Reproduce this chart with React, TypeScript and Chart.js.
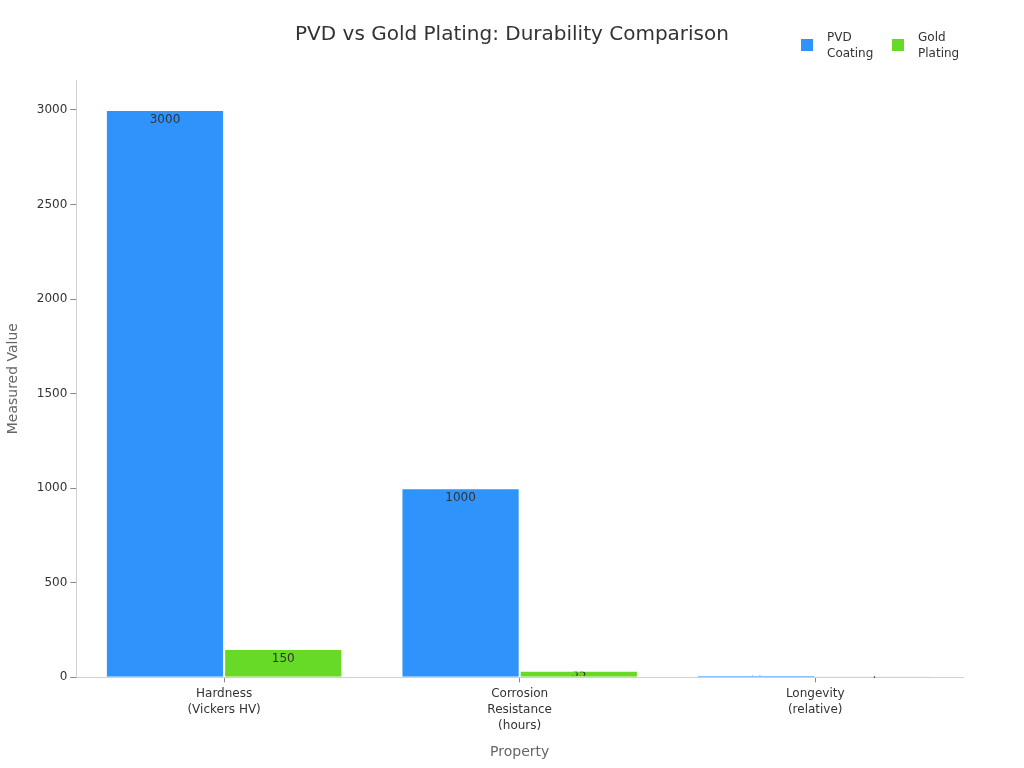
import React, { useEffect, useRef } from "react";
import { Chart, registerables } from "chart.js";

Chart.register(...registerables);

const categories: string[][] = [
  ["Hardness", "(Vickers HV)"],
  ["Corrosion", "Resistance", "(hours)"],
  ["Longevity", "(relative)"],
];
const pvdValues = [3000, 1000, 12];
const goldValues = [150, 35, 1];
const seriesNames = [["PVD", "Coating"], ["Gold", "Plating"]];
const yTicks = [0, 500, 1000, 1500, 2000, 2500, 3000];
const chartTitle = "PVD vs Gold Plating: Durability Comparison";

const BLUE = "#2E93FA";
const GREEN = "#66DA26";
const FONT = "'DejaVu Sans', sans-serif";

const labelPlugin = {
  id: "barLabels",
  afterDatasetsDraw(chart: any) {
    const ctx = chart.ctx;
    chart.data.datasets.forEach((ds: any, di: number) => {
      const meta = chart.getDatasetMeta(di);
      meta.data.forEach((bar: any, i: number) => {
        const v = ds.data[i];
        const left = bar.x - bar.width / 2;
        const top = Math.min(bar.y, bar.base);
        const h = Math.abs(bar.base - bar.y);
        ctx.save();
        ctx.beginPath();
        ctx.rect(left + 1, top + 1, bar.width - 2, h - 2);
        ctx.clip();
        ctx.fillStyle = "#333";
        ctx.font = `12px ${FONT}`;
        ctx.textAlign = "center";
        ctx.textBaseline = "middle";
        const y = Math.min(top + 10, top + h / 2);
        ctx.fillText(String(v), bar.x, y);
        ctx.restore();
      });
    });
  },
  afterDraw(chart: any) {
    const ctx = chart.ctx;
    ctx.save();
    ctx.fillStyle = "#333";
    ctx.font = `20px ${FONT}`;
    ctx.textAlign = "center";
    ctx.textBaseline = "alphabetic";
    ctx.fillText(chartTitle, chart.width / 2, 40);
    const items = [
      { color: BLUE, x: 801, text: seriesNames[0] },
      { color: GREEN, x: 892, text: seriesNames[1] },
    ];
    items.forEach((it) => {
      ctx.fillStyle = it.color;
      ctx.fillRect(it.x, 39, 12, 12);
      ctx.fillStyle = "#333";
      ctx.font = `12px ${FONT}`;
      ctx.textAlign = "left";
      ctx.textBaseline = "middle";
      ctx.fillText(it.text[0], it.x + 26, 38);
      ctx.fillText(it.text[1], it.x + 26, 54);
    });
    ctx.restore();
  },
};

export default function App() {
  const ref = useRef<HTMLCanvasElement>(null);
  useEffect(() => {
    if (!ref.current) return;
    const chart = new Chart(ref.current, {
      type: "bar",
      data: {
        labels: categories as any,
        datasets: [
          {
            label: seriesNames[0].join(" "),
            data: pvdValues,
            backgroundColor: BLUE,
            borderColor: "rgba(255,255,255,0.6)",
            borderWidth: 1,
          },
          {
            label: seriesNames[1].join(" "),
            data: goldValues,
            backgroundColor: GREEN,
            borderColor: "rgba(255,255,255,0.6)",
            borderWidth: 1,
          },
        ],
      },
      options: {
        animation: false,
        responsive: true,
        maintainAspectRatio: false,
        layout: { padding: { left: 1, right: 61, top: 80, bottom: 3 } },
        datasets: { bar: { barPercentage: 1, categoryPercentage: 0.8 } },
        plugins: {
          legend: { display: false },
          tooltip: { enabled: false },
          title: { display: false },
        },
        scales: {
          x: {
            offset: true,
            grid: { display: true, drawOnChartArea: false, offset: false, tickLength: 5, tickColor: "#888" },
            border: { color: "#d0d0d0" },
            ticks: {
              color: "#333",
              padding: 4,
              maxRotation: 0,
              font: { family: FONT, size: 12, lineHeight: 1.33 },
            },
            title: {
              display: true,
              text: "Property",
              color: "#666",
              font: { family: FONT, size: 14 },
              padding: { top: 6, bottom: 4 },
            },
          },
          y: {
            min: 0,
            max: 3158,
            afterBuildTicks(axis: any) {
              axis.ticks = yTicks.map((v) => ({ value: v }));
            },
            grid: { display: true, drawOnChartArea: false, tickLength: 6, tickColor: "#888" },
            border: { color: "#d0d0d0" },
            ticks: {
              color: "#333",
              padding: 3,
              font: { family: FONT, size: 12 },
              callback: (v: any) => String(v),
            },
            title: {
              display: true,
              text: "Measured Value",
              color: "#666",
              font: { family: FONT, size: 14 },
              padding: { top: 4, bottom: 12 },
            },
          },
        },
      } as any,
      plugins: [labelPlugin],
    });
    return () => chart.destroy();
  }, []);
  return (
    <div style={{ position: "fixed", left: 0, top: 0, width: 1024, height: 768, background: "#fff" }}>
      <canvas ref={ref} />
    </div>
  );
}
